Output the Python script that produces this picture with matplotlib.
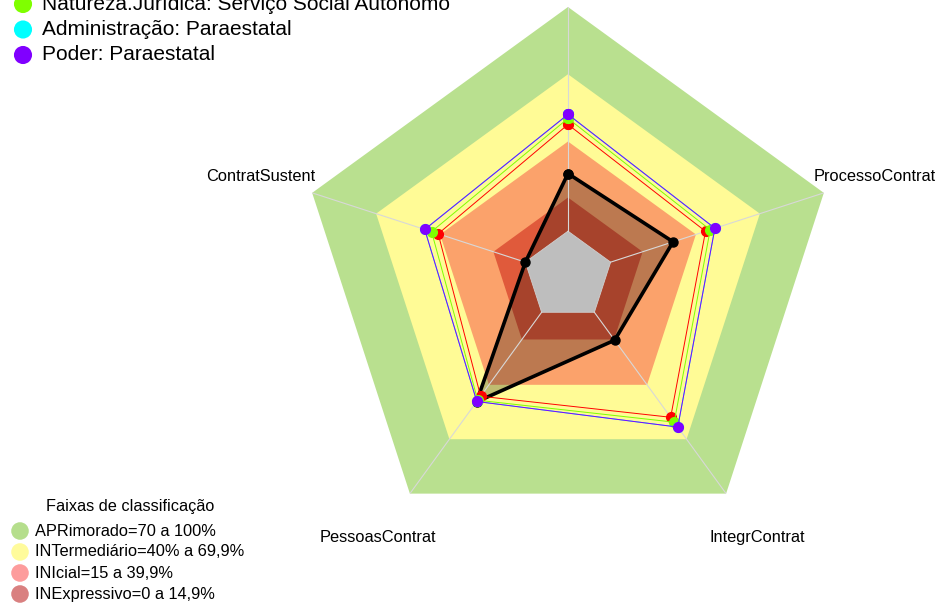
import numpy as np
import matplotlib.pyplot as plt

plt.rcParams['font.family'] = ['Liberation Sans', 'DejaVu Sans']

# Axes of the radar, counter-clockwise starting at the top
eixos = ["LiderancaContrat", "ContratSustent", "PessoasContrat", "IntegrContrat", "ProcessoContrat"]

# Classification bands (upper limit of each band, in %)
faixas_limite = [100, 70, 40, 15]
faixas_cor = ["#b9e08f", "#fffb96", "#fba26b", "#e05a3b"]
faixas_rotulo = ["APRimorado=70 a 100%", "INTermediário=40% a 69,9%",
                 "INIcial=15 a 39,9%", "INExpressivo=0 a 14,9%"]
faixas_cor_legenda = ["#b5de8c", "#fffb9c", "#fd9c9c", "#d98080"]

# Series values (%) per axis
orgao = [25.7, 0.0, 49.4, 15.4, 29.3]
referencia = [47.6, 40.9, 46.3, 57.9, 44.5]
natureza = [50.3, 44.0, 48.5, 60.6, 46.7]
administracao = [52.1, 47.2, 49.2, 63.3, 48.9]
poder = [52.1, 47.2, 49.2, 63.3, 48.9]

series_rotulo = ["Natureza.Jurídica: Serviço Social Autônomo",
                 "Administração: Paraestatal", "Poder: Paraestatal"]
series_cor = ["#7fff00", "#00ffff", "#8000ff"]

N_SEG = 5


def escala(v):
    # value 0..100 -> radius 1..6 (inner hole of radius 1)
    return 1 + N_SEG * np.asarray(v, dtype=float) / 100.0


def fechar(a):
    a = list(a)
    return np.array(a + a[:1])


theta = np.arange(len(eixos)) * 2 * np.pi / len(eixos)
theta_c = fechar(theta)

W, H = 941, 605
fig = plt.figure(figsize=(W / 100, H / 100), dpi=100)

cx, cy, R = 568, 276, 269
ax = fig.add_axes([(cx - R) / W, (H - cy - R) / H, 2 * R / W, 2 * R / H],
                  projection='polar')
ax.set_theta_offset(np.pi / 2)
ax.set_ylim(0, 6)
ax.set_axis_off()

# bands
for lim, cor in zip(faixas_limite, faixas_cor):
    ax.fill(theta_c, fechar(escala([lim] * len(eixos))), color=cor, lw=0, zorder=1)

# organisation polygon fill
ax.fill(theta_c, fechar(escala(orgao)), color='black', alpha=0.25, lw=0, zorder=2)

# inner hole
ax.fill(theta_c, fechar([1] * len(eixos)), color='#bebebe', lw=0, zorder=3)
ax.plot(theta_c, fechar([1] * len(eixos)), color='#d0d0d0', lw=0.6, zorder=3)

# spokes
for t in theta:
    ax.plot([t, t], [1, 6], color='#d8d8d8', lw=0.8, zorder=4)

# organisation line
ax.plot(theta_c, fechar(escala(orgao)), color='black', lw=2.6, zorder=5,
        marker='o', markersize=6.5)

# comparison series
ax.plot(theta_c, fechar(escala(referencia)), color='#ff0000', lw=0.7, zorder=6,
        marker='o', markersize=7)
for vals, cor in zip([natureza, administracao, poder], series_cor):
    ax.plot(theta_c, fechar(escala(vals)), color=cor, lw=0.7, zorder=6,
            marker='o', markersize=7)

# axis labels
for t, nome in zip(theta[1:], eixos[1:]):
    ax.text(t, 7.2, nome, ha='center', va='center', fontsize=11.8, clip_on=False)

# legends drawn in pixel space
lg = fig.add_axes([0, 0, 1, 1])
lg.set_xlim(0, W)
lg.set_ylim(H, 0)
lg.set_axis_off()
lg.patch.set_alpha(0)

ys_top = [4, 29.5, 55]
for y, rot, cor in zip(ys_top, series_rotulo, series_cor):
    lg.scatter([23], [y], s=170, color=cor, edgecolors='none', clip_on=False)
    lg.text(42, y, rot, ha='left', va='center', fontsize=15)

lg.text(130, 507, "Faixas de classificação", ha='center', va='center', fontsize=11.7)
ys_bot = [531, 552, 573, 594]
for y, rot, cor in zip(ys_bot, faixas_rotulo, faixas_cor_legenda):
    lg.scatter([20], [y], s=160, color=cor, edgecolors='none')
    lg.text(35, y, rot, ha='left', va='center', fontsize=11.8)

fig.savefig('out.png', dpi=100)
